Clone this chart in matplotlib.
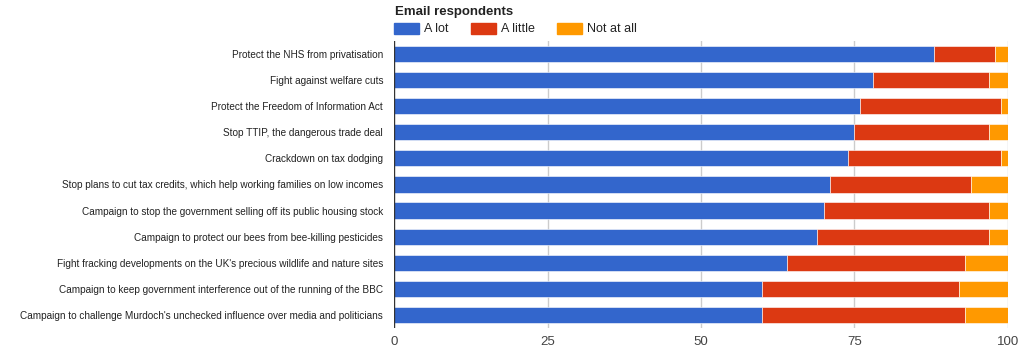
import numpy as np
import matplotlib
matplotlib.use('Agg')
import matplotlib.pyplot as plt
from matplotlib.patches import Rectangle

plt.rcParams['font.family'] = ['Liberation Sans', 'DejaVu Sans']

campaigns = [
    'Protect the NHS from privatisation',
    'Fight against welfare cuts',
    'Protect the Freedom of Information Act',
    'Stop TTIP, the dangerous trade deal',
    'Crackdown on tax dodging',
    'Stop plans to cut tax credits, which help working families on low incomes',
    'Campaign to stop the government selling off its public housing stock',
    'Campaign to protect our bees from bee-killing pesticides',
    "Fight fracking developments on the UK's precious wildlife and nature sites",
    'Campaign to keep government interference out of the running of the BBC',
    "Campaign to challenge Murdoch's unchecked influence over media and politicians",
]
a_lot = [88, 78, 76, 75, 74, 71, 70, 69, 64, 60, 60]
a_little = [10, 19, 23, 22, 25, 23, 27, 28, 29, 32, 33]
not_at_all = [2, 3, 1, 3, 1, 6, 3, 3, 7, 8, 7]
series_names = ['A lot', 'A little', 'Not at all']
colors = ['#3366cc', '#dc3912', '#ff9900']
ticks = [0, 25, 50, 75, 100]

fig = plt.figure(figsize=(10.24, 3.55), dpi=100)
ax = fig.add_axes([0.385, 0.076, 0.599, 0.809])

y = np.arange(len(campaigns))
left = np.zeros(len(campaigns))
for vals, col in zip([a_lot, a_little, not_at_all], colors):
    ax.barh(y, vals, left=left, height=0.62, color=col,
            edgecolor='white', linewidth=0.4, zorder=3)
    left += np.array(vals)

ax.set_ylim(len(campaigns) - 0.5, -0.5)
ax.set_xlim(0, 100)
ax.set_yticks(y)
ax.set_yticklabels(campaigns, fontsize=7.2, color='#222222')
ax.set_xticks(ticks)
ax.set_xticklabels([str(t) for t in ticks], fontsize=9.5, color='#444444')
ax.tick_params(length=0)
ax.tick_params(axis='x', pad=6)
ax.tick_params(axis='y', pad=8)
for t in ticks[1:]:
    ax.axvline(t, color='#cccccc', linewidth=1, zorder=1)
ax.axvline(0, color='#333333', linewidth=1, zorder=4)
for s in ax.spines.values():
    s.set_visible(False)

# legend
fig.text(395 / 1024, 1 - 12 / 355, 'Email respondents', fontsize=9.5,
         fontweight='bold', va='center', ha='left', color='#222222')
lx = [394, 471, 557]
for x0, name, col in zip(lx, series_names, colors):
    fig.patches.append(Rectangle((x0 / 1024, 1 - 34 / 355), 25 / 1024, 11 / 355,
                                 transform=fig.transFigure, color=col))
    fig.text((x0 + 30) / 1024, 1 - 28.5 / 355, name, fontsize=9,
             va='center', ha='left', color='#222222')

fig.savefig('out.png', dpi=100)
